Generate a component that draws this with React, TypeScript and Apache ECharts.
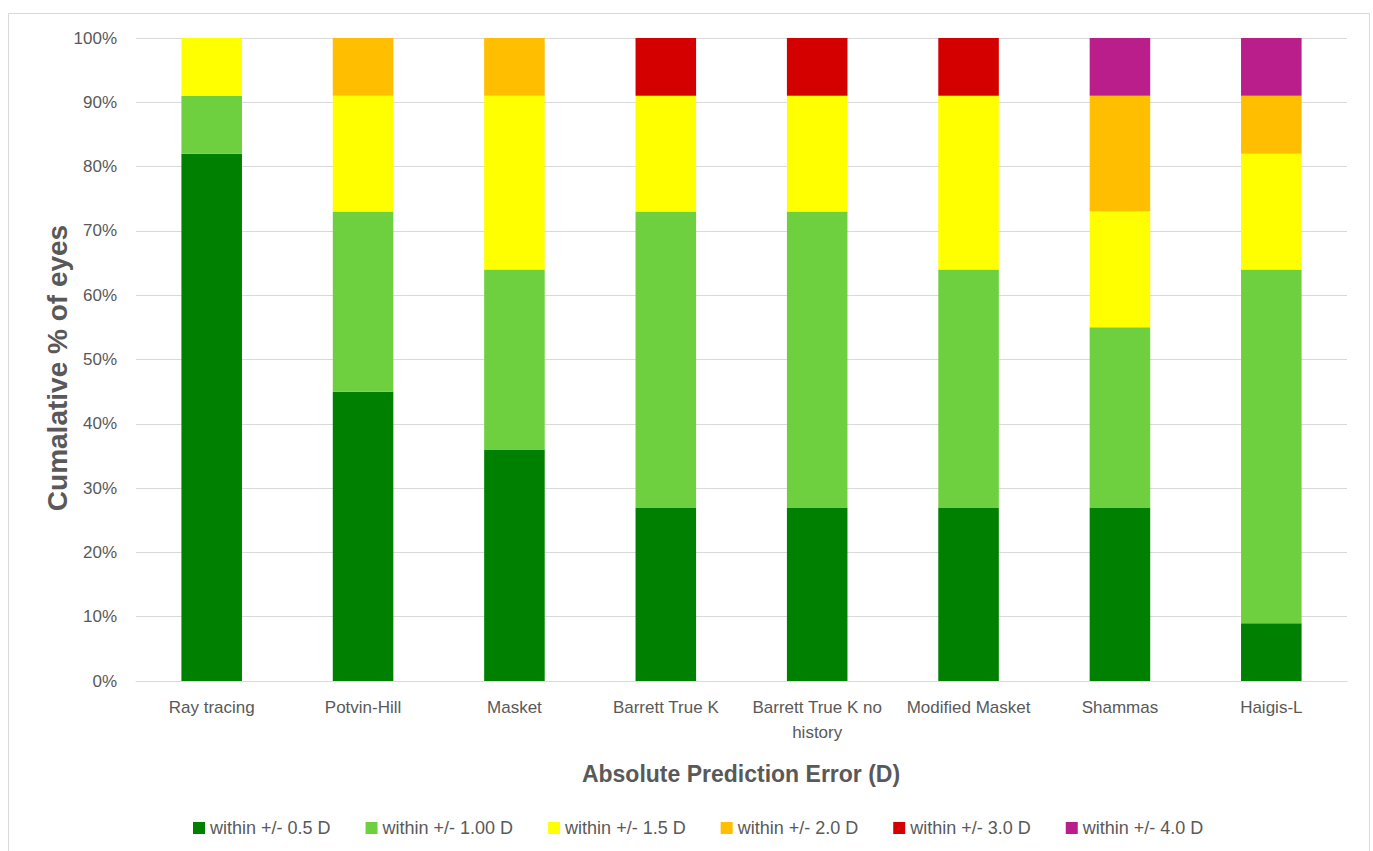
import React, { useEffect, useRef } from "react";
import * as echarts from "echarts";

const categories = [
  "Ray tracing",
  "Potvin-Hill",
  "Masket",
  "Barrett True K",
  "Barrett True K no\nhistory",
  "Modified Masket",
  "Shammas",
  "Haigis-L",
];

const seriesNames = [
  "within +/- 0.5 D",
  "within +/- 1.00 D",
  "within +/- 1.5 D",
  "within +/- 2.0 D",
  "within +/- 3.0 D",
  "within +/- 4.0 D",
];

const seriesColors = ["#008000", "#6FD03F", "#FFFF00", "#FFBE00", "#D40000", "#BA1E8A"];

// increments (stacked segments), percent
const within05 = [82, 45, 36, 27, 27, 27, 27, 9];
const within10 = [9, 28, 28, 46, 46, 37, 28, 55];
const within15 = [9, 18, 27, 18, 18, 27, 18, 18];
const within20 = [0, 9, 9, 0, 0, 0, 18, 9];
const within30 = [0, 0, 0, 9, 9, 9, 0, 0];
const within40 = [0, 0, 0, 0, 0, 0, 9, 9];

const seriesData = [within05, within10, within15, within20, within30, within40];

const yTicks = { min: 0, max: 100, interval: 10 };

export default function App() {
  const ref = useRef<HTMLDivElement>(null);

  useEffect(() => {
    document.body.style.margin = "0";
    if (!ref.current) return;
    const chart = echarts.init(ref.current, null, { renderer: "svg" });
    const font = "'Liberation Sans', Arial, sans-serif";
    chart.setOption({
      animation: false,
      backgroundColor: "#ffffff",
      textStyle: { fontFamily: font },
      grid: { left: 136, right: 26, top: 38, bottom: 170, containLabel: false },
      legend: {
        data: seriesNames,
        top: 814,
        left: 188,
        itemWidth: 12,
        itemHeight: 12,
        itemGap: 35,
        icon: "rect",
        textStyle: { fontSize: 18, color: "#595959", fontFamily: font },
      },
      xAxis: {
        type: "category",
        data: categories,
        axisLine: { lineStyle: { color: "#d9d9d9", width: 1 } },
        axisTick: { show: false },
        axisLabel: {
          color: "#595959",
          fontSize: 17,
          margin: 14,
          lineHeight: 25,
          interval: 0,
          fontFamily: font,
        },
      },
      yAxis: {
        type: "value",
        min: yTicks.min,
        max: yTicks.max,
        interval: yTicks.interval,
        axisLine: { show: false },
        axisTick: { show: false },
        splitLine: { lineStyle: { color: "#d9d9d9", width: 1 } },
        axisLabel: {
          color: "#595959",
          fontSize: 17,
          margin: 19,
          formatter: "{value}%",
          fontFamily: font,
        },
      },
      graphic: [
        {
          type: "rect",
          shape: { x: 8.5, y: 13.5, width: 1361, height: 860 },
          style: { fill: "none", stroke: "#d9d9d9", lineWidth: 1 },
          silent: true,
        },
        {
          type: "text",
          x: 57,
          y: 368,
          rotation: Math.PI / 2,
          style: {
            text: "Cumalative % of eyes",
            fill: "#595959",
            fontSize: 28,
            fontWeight: "bold",
            fontFamily: font,
            align: "center",
            verticalAlign: "middle",
          },
        },
        {
          type: "text",
          x: 741,
          y: 774,
          style: {
            text: "Absolute Prediction Error (D)",
            fill: "#595959",
            fontSize: 23,
            fontWeight: "bold",
            fontFamily: font,
            align: "center",
            verticalAlign: "middle",
          },
        },
      ],
      series: seriesNames.map((name, i) => ({
        name,
        type: "bar",
        stack: "total",
        barWidth: "40%",
        data: seriesData[i],
        itemStyle: { color: seriesColors[i] },
      })),
    });
    return () => chart.dispose();
  }, []);

  return <div ref={ref} style={{ width: 1373, height: 851 }} />;
}
